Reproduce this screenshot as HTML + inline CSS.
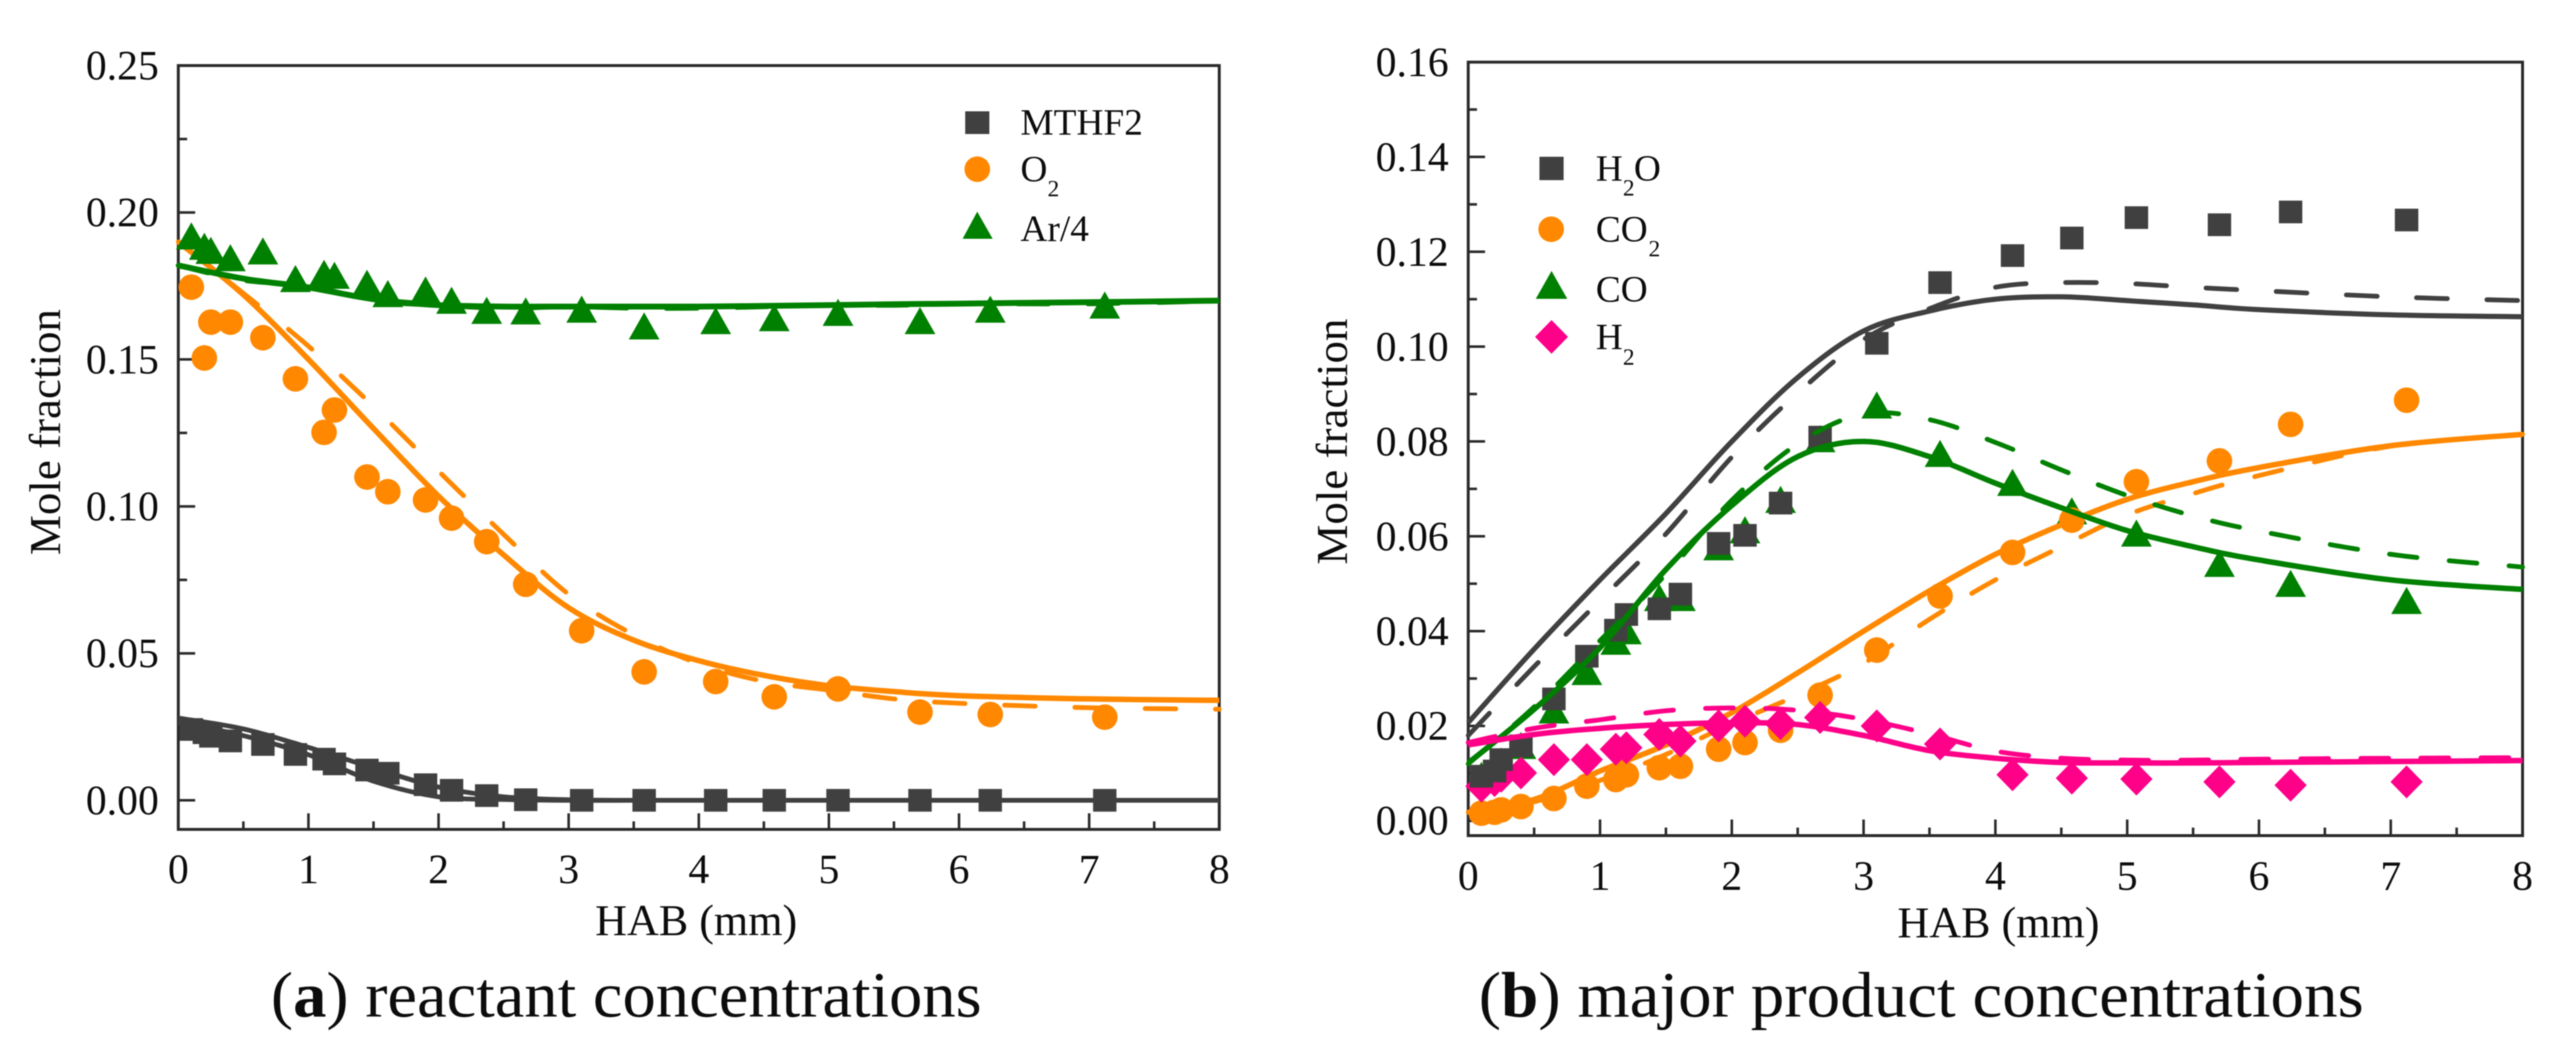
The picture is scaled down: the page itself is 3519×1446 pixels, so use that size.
<!DOCTYPE html>
<html lang="en">
<head>
<meta charset="utf-8">
<title>Mole fraction profiles</title>
<style>
html,body{margin:0;padding:0;background:#fff;width:3519px;height:1446px;overflow:hidden}
svg{display:block;filter:blur(0.7px)}
text{font-family:"Liberation Serif",serif;fill:#0c0c0c}
</style>
</head>
<body>
<svg id="figure" xmlns="http://www.w3.org/2000/svg" width="3519" height="1446" viewBox="0 0 3519 1446">
  <rect width="3519" height="1446" fill="#fff"/>
  <g id="panelA"></g>
  <g id="panelB"></g>

  <g>
    <g>
      <rect x="1318.5" y="152" width="33" height="31" fill="#404040"/>
      <text x="1394" y="184" font-size="51">MTHF2</text>
    </g>
    <g>
      <circle cx="1335" cy="231" r="17.5" fill="#ff8800"/>
      <text x="1394" y="248" font-size="51">O</text>
      <text x="1431" y="268" font-size="32">2</text>
    </g>
    <g>
      <polygon points="1335,289 1356,326 1315,326" fill="#008000"/>
      <text x="1394" y="329" font-size="51">Ar/4</text>
    </g>
  </g>

  <g>
    <g>
      <rect x="2103" y="214" width="33" height="32" fill="#404040"/>
      <text x="2180" y="247" font-size="51">H</text>
      <text x="2217" y="267" font-size="32">2</text>
      <text x="2232" y="247" font-size="51">O</text>
    </g>
    <g>
      <circle cx="2119" cy="313" r="17.5" fill="#ff8800"/>
      <text x="2180" y="330" font-size="51">CO</text>
      <text x="2252" y="350" font-size="32">2</text>
    </g>
    <g>
      <polygon points="2119.5,370 2141,408 2098,408" fill="#008000"/>
      <text x="2180" y="412" font-size="51">CO</text>
    </g>
    <g>
      <polygon points="2119.5,437 2142,460 2119.5,483 2097,460" fill="#ff0088"/>
      <text x="2180" y="477" font-size="51">H</text>
      <text x="2217" y="498" font-size="32">2</text>
    </g>
  </g>

  <text transform="translate(82,590) rotate(-90)" text-anchor="middle" font-size="60" textLength="336" lengthAdjust="spacingAndGlyphs">Mole fraction</text>
  <text x="951" y="1277" text-anchor="middle" font-size="60" textLength="276" lengthAdjust="spacingAndGlyphs">HAB (mm)</text>
  <text transform="translate(1840,603) rotate(-90)" text-anchor="middle" font-size="60" textLength="336" lengthAdjust="spacingAndGlyphs">Mole fraction</text>
  <text x="2730" y="1280" text-anchor="middle" font-size="60" textLength="276" lengthAdjust="spacingAndGlyphs">HAB (mm)</text>

  <text x="370" y="1388" font-size="88" textLength="971" lengthAdjust="spacingAndGlyphs">(<tspan font-weight="bold">a</tspan>) reactant concentrations</text>
  <text x="2020" y="1388" font-size="88" textLength="1209" lengthAdjust="spacingAndGlyphs">(<tspan font-weight="bold">b</tspan>) major product concentrations</text>
</svg>

<script>
// ---- shared categories ----
const habPoints = [0.1,0.2,0.25,0.4,0.65,0.9,1.12,1.2,1.45,1.61,1.9,2.1,2.37,2.67,3.1,3.58,4.13,4.58,5.07,5.7,6.24,7.12];
const habCurve = [0,0.5,1,1.5,2,2.5,3,3.5,4,4.5,5,5.5,6,7,8];
const xTickLabels = ["0","1","2","3","4","5","6","7","8"];
const xTickValues = [0,1,2,3,4,5,6,7,8];
const xMinorValues = [0.5,1.5,2.5,3.5,4.5,5.5,6.5,7.5];

// ---- panel A ----
const yTickLabelsA = ["0.00","0.05","0.10","0.15","0.20","0.25"];
const yTickValuesA = [0,0.05,0.1,0.15,0.2,0.25];
const yMinorValuesA = [0.025,0.075,0.125,0.175,0.225];
const mthfPoints = [0.0241,0.023,0.0218,0.0202,0.019,0.0156,0.014,0.0124,0.0103,0.0092,0.0053,0.0034,0.0016,0.0002,0,0,0,0,0,0,0,0];
const o2Points = [0.1746,0.1505,0.1627,0.1627,0.1574,0.1434,0.1252,0.1328,0.11,0.105,0.1022,0.096,0.088,0.0735,0.0577,0.0437,0.0404,0.0352,0.0379,0.03,0.0292,0.0283];
const arPoints = [0.1919,0.1884,0.187,0.1845,0.1868,0.1774,0.1792,0.1785,0.1758,0.1723,0.1735,0.17,0.1666,0.1664,0.167,0.1613,0.1631,0.1641,0.1659,0.1631,0.167,0.1684];
const mthfSolid = [0.028,0.0243,0.018,0.011,0.0045,0.0012,0.0002,0,0,0,0,0,0,0,0];
const mthfDashed = [0.0265,0.022,0.0155,0.0065,0.0012,0.0003,0,0,0,0,0,0,0,0,0];
const o2Solid = [0.19,0.172,0.15,0.1265,0.1035,0.0835,0.0655,0.0545,0.0475,0.0425,0.039,0.037,0.0356,0.0345,0.034];
const o2Dashed = [0.19,0.1725,0.1545,0.134,0.112,0.0905,0.0701,0.0563,0.0465,0.0405,0.0375,0.0345,0.033,0.0315,0.031];
const arSolid = [0.182,0.1775,0.1745,0.1705,0.1685,0.168,0.168,0.168,0.168,0.1682,0.1685,0.1688,0.169,0.1695,0.17];
const arDashed = [0.182,0.177,0.175,0.17,0.1685,0.1675,0.168,0.1675,0.1675,0.168,0.1685,0.1685,0.169,0.169,0.17];

// ---- panel B ----
const yTickLabelsB = ["0.00","0.02","0.04","0.06","0.08","0.10","0.12","0.14","0.16"];
const yTickValuesB = [0,0.02,0.04,0.06,0.08,0.1,0.12,0.14,0.16];
const yMinorValuesB = [0.01,0.03,0.05,0.07,0.09,0.11,0.13,0.15];
const h2oPoints = [0.0094,0.0105,0.0129,0.0158,0.0257,0.0347,0.0402,0.0435,0.0447,0.0478,0.0585,0.0602,0.067,0.0809,0.1007,0.1135,0.1192,0.1229,0.1272,0.1257,0.1284,0.1267];
const co2Points = [0.0016,0.0018,0.0023,0.003,0.0047,0.0073,0.0087,0.0097,0.0112,0.0115,0.0151,0.0165,0.0191,0.0265,0.036,0.0474,0.0566,0.0634,0.0715,0.0759,0.0836,0.0887];
const coPoints = [0.0095,0.011,0.0125,0.0158,0.0233,0.0314,0.0378,0.04,0.047,0.047,0.0577,0.0613,0.0677,0.0805,0.0876,0.0774,0.0713,0.0653,0.0606,0.0542,0.05,0.0464];
const h2Points = [0.0073,0.0085,0.0094,0.0101,0.0129,0.0129,0.0151,0.0154,0.0182,0.0168,0.02,0.021,0.0205,0.0218,0.02,0.0162,0.0097,0.009,0.0088,0.0082,0.0075,0.0082];
const h2oSolid = [0.0207,0.0362,0.0508,0.0648,0.08,0.0935,0.1033,0.1075,0.11,0.1105,0.1097,0.1088,0.1078,0.1067,0.1063];
const h2oDashed = [0.018,0.0325,0.0465,0.0605,0.0767,0.0902,0.1015,0.108,0.1125,0.1135,0.1133,0.1125,0.1118,0.1105,0.1097];
const coSolid = [0.0122,0.0235,0.0365,0.053,0.0665,0.0768,0.08,0.0768,0.0712,0.066,0.0612,0.0578,0.055,0.0508,0.0488];
const coDashed = [0.012,0.024,0.038,0.052,0.0676,0.0795,0.0858,0.0846,0.0798,0.074,0.0686,0.0643,0.0611,0.0562,0.0535];
const co2Solid = [0.0018,0.0045,0.0105,0.016,0.0228,0.0312,0.04,0.0485,0.0562,0.0624,0.0678,0.0715,0.0745,0.0791,0.0815];
const co2Dashed = [0.0018,0.004,0.0085,0.014,0.0205,0.0265,0.0332,0.0425,0.0508,0.0578,0.0645,0.069,0.0728,0.079,0.0815];
const h2Solid = [0.016,0.0182,0.0195,0.0203,0.0207,0.0203,0.018,0.0148,0.0132,0.0123,0.0122,0.0122,0.0123,0.0125,0.0127];
const h2Dashed = [0.0165,0.0195,0.0213,0.0232,0.0238,0.0233,0.0214,0.0183,0.0147,0.0132,0.0128,0.0128,0.013,0.0132,0.0133];

const GREY = '#404040', ORANGE = '#ff8800', GREEN = '#008000', PINK = '#ff0088';
const SVGNS = 'http://www.w3.org/2000/svg';

function node(tag, parent){
  const el = document.createElementNS(SVGNS, tag);
  parent.appendChild(el);
  return el;
}

function makeAxes(x0, x1, y0, y1, yMin, yMax){
  return {
    x: function(v){ return x0 + (v / 8) * (x1 - x0); },
    y: function(v){ return y1 - ((v - yMin) / (yMax - yMin)) * (y1 - y0); },
    x0: x0, x1: x1, y0: y0, y1: y1
  };
}

function curvePath(xs, ys, ax){
  const p = xs.map(function(v, i){ return [ax.x(v), ax.y(ys[i])]; });
  let d = 'M' + p[0][0].toFixed(1) + ' ' + p[0][1].toFixed(1);
  for(let i = 0; i < p.length - 1; i++){
    const a = p[Math.max(i - 1, 0)], b = p[i], c = p[i + 1], e = p[Math.min(i + 2, p.length - 1)];
    const c1x = b[0] + (c[0] - a[0]) / 6, c1y = b[1] + (c[1] - a[1]) / 6;
    const c2x = c[0] - (e[0] - b[0]) / 6, c2y = c[1] - (e[1] - b[1]) / 6;
    d += 'C' + c1x.toFixed(1) + ' ' + c1y.toFixed(1) + ' ' + c2x.toFixed(1) + ' ' + c2y.toFixed(1) + ' ' + c[0].toFixed(1) + ' ' + c[1].toFixed(1);
  }
  return d;
}

function drawLine(parent, ys, color, width, dash, name){
  const path = node('path', parent);
  
  
  path.setAttribute('d', curvePath(habCurve, ys, parent.ax));
  path.setAttribute('fill', 'none');
  path.setAttribute('stroke', color);
  path.setAttribute('stroke-width', width);
  if(dash){
    path.setAttribute('stroke-dasharray', dash);
    path.setAttribute('stroke-linecap', 'round');
  }
}

function drawMarkers(parent, ys, shape, color, name){
  const ax = parent.ax;
  ys.forEach(function(val, i){
    const cx = ax.x(habPoints[i]), cy = ax.y(val);
    let m;
    if(shape === 'square'){
      m = node('rect', parent);
      m.setAttribute('x', cx - 16);
      m.setAttribute('y', cy - 15.5);
      m.setAttribute('width', 32);
      m.setAttribute('height', 31);
    } else if(shape === 'circle'){
      m = node('circle', parent);
      m.setAttribute('cx', cx);
      m.setAttribute('cy', cy);
      m.setAttribute('r', 17.5);
    } else if(shape === 'triangle'){
      m = node('polygon', parent);
      m.setAttribute('points', cx + ',' + (cy - 19) + ' ' + (cx + 21) + ',' + (cy + 18) + ' ' + (cx - 21) + ',' + (cy + 18));
    } else {
      m = node('polygon', parent);
      m.setAttribute('points', cx + ',' + (cy - 22.5) + ' ' + (cx + 22) + ',' + cy + ' ' + cx + ',' + (cy + 22.5) + ' ' + (cx - 22) + ',' + cy);
    }
    m.setAttribute('fill', color);
    
    
  });
}

function drawFrame(g, yLabels, yValues, yMinor, labelRight, xLabelBase){
  const ax = g.ax;
  function tick(x1, y1, x2, y2, name){
    const t = node('line', g);
    t.setAttribute('x1', x1); t.setAttribute('y1', y1);
    t.setAttribute('x2', x2); t.setAttribute('y2', y2);
    t.setAttribute('stroke', '#2a2a2a');
    t.setAttribute('stroke-width', 3.5);
    
    
  }
  xTickValues.forEach(function(v, i){
    const px = ax.x(v);
    tick(px, ax.y1, px, ax.y1 - 22, 'x-major-tick');
    const t = node('text', g);
    t.setAttribute('x', px);
    t.setAttribute('y', xLabelBase);
    t.setAttribute('text-anchor', 'middle');
    t.setAttribute('font-size', 57);
    
    
    t.textContent = xTickLabels[i];
  });
  xMinorValues.forEach(function(v){
    const px = ax.x(v);
    tick(px, ax.y1, px, ax.y1 - 11, 'x-minor-tick');
  });
  yValues.forEach(function(v, i){
    const py = ax.y(v);
    tick(ax.x0, py, ax.x0 + 23, py, 'y-major-tick');
    const t = node('text', g);
    t.setAttribute('x', labelRight);
    t.setAttribute('y', py + 19);
    t.setAttribute('text-anchor', 'end');
    t.setAttribute('font-size', 57);
    
    
    t.textContent = yLabels[i];
  });
  yMinor.forEach(function(v){
    const py = ax.y(v);
    tick(ax.x0, py, ax.x0 + 12, py, 'y-minor-tick');
  });
  const f = node('rect', g);
  f.setAttribute('x', ax.x0);
  f.setAttribute('y', ax.y0);
  f.setAttribute('width', ax.x1 - ax.x0);
  f.setAttribute('height', ax.y1 - ax.y0);
  f.setAttribute('fill', 'none');
  f.setAttribute('stroke', '#2a2a2a');
  f.setAttribute('stroke-width', 4);
  
  
}

// Panel A
const gA = document.getElementById('panelA');
gA.ax = makeAxes(243.6, 1665.6, 89.5, 1132.5, -0.0099, 0.25);
drawFrame(gA, yTickLabelsA, yTickValuesA, yMinorValuesA, 217, 1206);
drawMarkers(gA, mthfPoints, 'square', GREY, 'mthf2-point');
drawLine(gA, mthfDashed, GREY, 6.5, '', 'mthf2-dashed-line');
drawLine(gA, mthfSolid, GREY, 6.5, '', 'mthf2-solid-line');
drawLine(gA, o2Dashed, ORANGE, 6.5, '42 54', 'o2-dashed-line');
drawLine(gA, o2Solid, ORANGE, 7.5, '', 'o2-solid-line');
drawMarkers(gA, o2Points, 'circle', ORANGE, 'o2-point');
drawMarkers(gA, arPoints, 'triangle', GREEN, 'ar-point');
drawLine(gA, arDashed, GREEN, 7, '42 54', 'ar-dashed-line');
drawLine(gA, arSolid, GREEN, 8, '', 'ar-solid-line');

// Panel B
const gB = document.getElementById('panelB');
gB.ax = makeAxes(2005.7, 3446, 84.8, 1141, -0.00313, 0.16);
drawFrame(gB, yTickLabelsB, yTickValuesB, yMinorValuesB, 1979, 1215);
drawMarkers(gB, coPoints, 'triangle', GREEN, 'co-point');
drawMarkers(gB, co2Points, 'circle', ORANGE, 'co2-point');
drawLine(gB, co2Dashed, ORANGE, 6.5, '38 46', 'co2-dashed-line');
drawLine(gB, co2Solid, ORANGE, 7.5, '', 'co2-solid-line');
drawMarkers(gB, h2Points, 'diamond', PINK, 'h2-point');
drawMarkers(gB, h2oPoints, 'square', GREY, 'h2o-point');
drawLine(gB, h2oDashed, GREY, 6.5, '42 54', 'h2o-dashed-line');
drawLine(gB, h2oSolid, GREY, 7, '', 'h2o-solid-line');
drawLine(gB, coDashed, GREEN, 6.5, '38 44', 'co-dashed-line');
drawLine(gB, coSolid, GREEN, 7.5, '', 'co-solid-line');
drawLine(gB, h2Dashed, PINK, 6.5, '38 44', 'h2-dashed-line');
drawLine(gB, h2Solid, PINK, 7.5, '', 'h2-solid-line');
</script>
</body>
</html>
